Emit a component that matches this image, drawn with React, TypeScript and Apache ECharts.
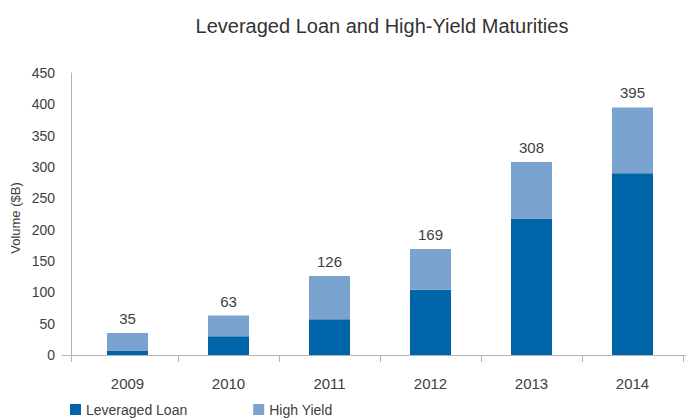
import React, { useEffect, useRef } from "react";
import * as echarts from "echarts";

const years = ["2009", "2010", "2011", "2012", "2013", "2014"];
const leveragedLoan = [7, 30, 57, 104, 218, 290];
const highYield = [28, 33, 69, 65, 90, 105];
const yTicks = [0, 50, 100, 150, 200, 250, 300, 350, 400, 450];

const FONT = "'Liberation Sans', Arial, sans-serif";
const TEXT = "#404040";
const AXIS = "#b3b3b3";

export default function App() {
  const ref = useRef<HTMLDivElement>(null);

  useEffect(() => {
    if (!ref.current) return;
    const chart = echarts.init(ref.current, undefined, { renderer: "svg" });
    const totals = years.map((_, i) => leveragedLoan[i] + highYield[i]);

    chart.setOption({
      animation: false,
      title: {
        text: "Leveraged Loan and High-Yield Maturities",
        left: 377,
        textAlign: "center",
        top: 11,
        textStyle: { fontFamily: FONT, fontSize: 20, fontWeight: "normal", color: "#333" },
      },
      legend: {
        left: 70,
        top: 402,
        padding: 0,
        itemWidth: 11,
        itemHeight: 11,
        itemGap: 66,
        icon: "rect",
        textStyle: { fontFamily: FONT, fontSize: 14, lineHeight: 15, color: TEXT },
        data: ["Leveraged Loan", "High Yield"],
      },
      grid: { left: 77, right: 3, top: 73, bottom: 64 },
      xAxis: {
        type: "category",
        data: years,
        axisLine: { show: false },
        axisTick: {
          show: true,
          length: 7,
          interval: (i: number) => i > 0 && i < years.length,
          lineStyle: { color: AXIS },
        },
        axisLabel: { margin: 21, fontFamily: FONT, fontSize: 15, color: TEXT },
      },
      yAxis: {
        type: "value",
        min: yTicks[0],
        max: yTicks[yTicks.length - 1],
        interval: 50,
        offset: 6,
        axisLine: { show: true, lineStyle: { color: AXIS } },
        axisTick: { show: false },
        splitLine: { show: false },
        axisLabel: { margin: 16, fontFamily: FONT, fontSize: 14, color: TEXT },
      },
      graphic: [
        {
          type: "text",
          x: 15,
          y: 218,
          rotation: Math.PI / 2,
          style: {
            text: "Volume ($B)",
            fontFamily: FONT,
            fontSize: 13,
            fill: TEXT,
            align: "center",
            verticalAlign: "middle",
          },
        },
        {
          type: "line",
          shape: { x1: 62, y1: 355.5, x2: 686, y2: 355.5 },
          style: { stroke: AXIS, lineWidth: 1 },
          z: 10,
        },
        {
          type: "line",
          shape: { x1: 71.5, y1: 355, x2: 71.5, y2: 362 },
          style: { stroke: AXIS, lineWidth: 1 },
          z: 10,
        },
      ],
      series: [
        {
          name: "Leveraged Loan",
          type: "bar",
          stack: "total",
          barWidth: 41,
          data: leveragedLoan,
          itemStyle: { color: "#0064A8" },
        },
        {
          name: "High Yield",
          type: "bar",
          stack: "total",
          barWidth: 41,
          data: highYield,
          itemStyle: { color: "#7BA3CF" },
          label: {
            show: true,
            position: "top",
            distance: 7,
            fontFamily: FONT,
            fontSize: 15,
            color: TEXT,
            formatter: (p: any) => String(totals[p.dataIndex]),
          },
        },
      ],
    });

    return () => chart.dispose();
  }, []);

  return <div ref={ref} style={{ width: 686, height: 419, position: "absolute", left: 0, top: 0 }} />;
}
